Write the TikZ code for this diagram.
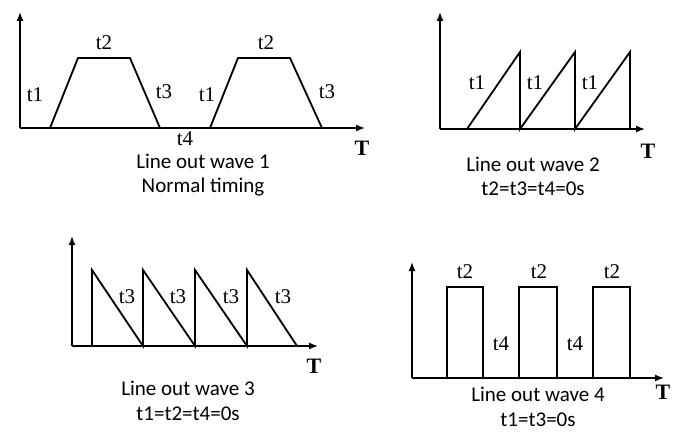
\documentclass[tikz,border=0pt]{standalone}
\usepackage{fontspec}
\setmainfont{Liberation Serif}
\newfontfamily\capfont{Carlito}
\usetikzlibrary{positioning,arrows.meta}
\begin{document}
\begin{tikzpicture}[x=1pt,y=-1pt, line width=1.8pt, every node/.style={inner sep=0,outer sep=0, font=\fontsize{21}{21}\selectfont}, axis/.style={-{Latex[length=9pt,width=7pt]},line width=1.4pt}, caption/.style={font=\capfont\fontsize{21}{21}\selectfont}, tlabel/.style={font=\bfseries\fontsize{22}{22}\selectfont}]
		\useasboundingbox (0,0) rectangle (699,441);

		%Axes
		\draw[axis] (20,128) -- (20,12);
		\draw[axis] (20,128) -- (365,128);
		\draw[axis] (440,129) -- (440,12);
		\draw[axis] (440,129) -- (645,129);
		\draw[axis] (72,346) -- (72,236);
		\draw[axis] (72,346) -- (318,346);
		\draw[axis] (412,378) -- (412,262);
		\draw[axis] (412,378) -- (664,378);

		%Waves
		\draw (50,128) -- (78,58) -- (130,58) -- (160,128);
		\draw (210,128) -- (238,58) -- (290,58) -- (322,128);
		\draw (467,129) -- (520,52) -- (520,129) -- (575,52) -- (575,129) -- (630,52) -- (630,129);
		\draw (92,346) -- (92,270) -- (143,346) -- (143,270) -- (195,346) -- (195,270) -- (247,346) -- (247,270) -- (297,346);
		\draw (447,378) -- (447,287) -- (483,287) -- (483,378);
		\draw (519,378) -- (519,287) -- (557,287) -- (557,378);
		\draw (593,378) -- (593,287) -- (630,287) -- (630,378);

		%Labels
		\node (a1) at (35,95) {t1};
		\node (a2) at (104,43) {t2};
		\node (a3) at (164,92) {t3};
		\node (a4) at (185,139) {t4};
		\node (a5) at (207,95) {t1};
		\node (a6) at (266,43) {t2};
		\node (a7) at (327,92) {t3};
		\node[tlabel] (aT) at (362,148) {T};
		\node[caption] (ac1) at (203,161) {Line out wave 1};
		\node[caption] (ac2) at (203,187) {Normal timing};

		\node (b1) at (477,83) {t1};
		\node (b2) at (535,83) {t1};
		\node (b3) at (590,83) {t1};
		\node[tlabel] (bT) at (648,151) {T};
		\node[caption] (bc1) at (533,164) {Line out wave 2};
		\node[caption] (bc2) at (533,189) {t2=t3=t4=0s};

		\node (c1) at (127,297) {t3};
		\node (c2) at (178,297) {t3};
		\node (c3) at (231,297) {t3};
		\node (c4) at (283,297) {t3};
		\node[tlabel] (cT) at (314,366) {T};
		\node[caption] (cc1) at (188,388) {Line out wave 3};
		\node[caption] (cc2) at (188,414) {t1=t2=t4=0s};

		\node (d1) at (465,272) {t2};
		\node (d2) at (539,272) {t2};
		\node (d3) at (612,272) {t2};
		\node (d4) at (501,344) {t4};
		\node (d5) at (575,344) {t4};
		\node[tlabel] (dT) at (663,392) {T};
		\node[caption] (dc1) at (538,394) {Line out wave 4};
		\node[caption] (dc2) at (538,420) {t1=t3=0s};
	\end{tikzpicture}
\end{document}
